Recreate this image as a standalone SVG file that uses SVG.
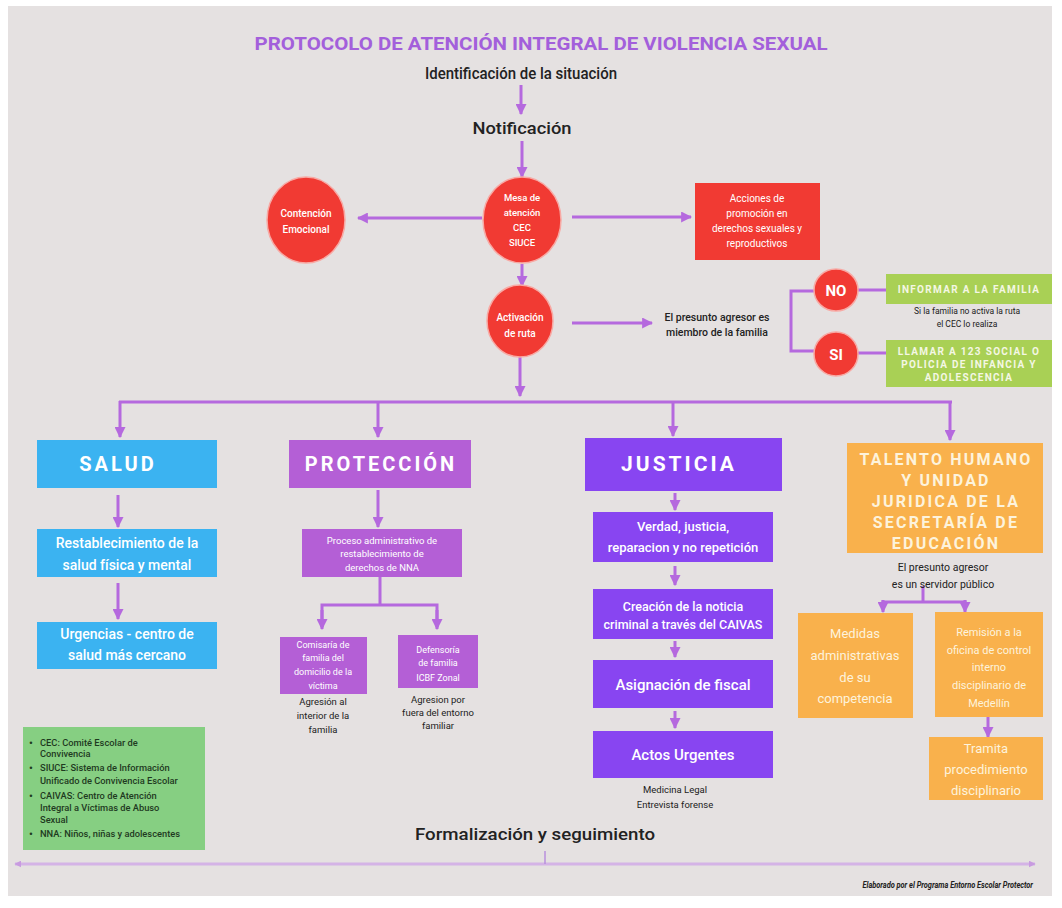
<svg xmlns="http://www.w3.org/2000/svg" width="1062" height="908" viewBox="0 0 1062 908">
<style>
.ln{stroke:#b569de;stroke-width:3;fill:none}
.a{marker-end:url(#ah)}
.red{fill:#f13a33;stroke:#f8a9a4;stroke-width:1.5}
.t{font-family:Roboto,"Liberation Sans",sans-serif}
.w{fill:#fff}
.d{fill:#222}
.c{text-anchor:middle}
.hd{font-family:Roboto,"Liberation Sans",sans-serif;font-weight:700;fill:#fff;text-anchor:middle;letter-spacing:3px}
</style>
<defs>
<marker id="ah" viewBox="0 0 10 10" refX="9" refY="5" markerWidth="11" markerHeight="11" markerUnits="userSpaceOnUse" orient="auto">
<path d="M0,0 L10,5 L0,10 z" fill="#b569de"/>
</marker>
<marker id="sh" viewBox="0 0 10 10" refX="9" refY="5" markerWidth="7" markerHeight="7" markerUnits="userSpaceOnUse" orient="auto-start-reverse">
<path d="M0,0 L10,5 L0,10 z" fill="#c89be0"/>
</marker>
</defs>
<rect x="0" y="0" width="1062" height="908" fill="#ffffff"/>
<rect x="8" y="6" width="1044" height="890" fill="#e5e1e1"/>

<g id="title">
<text class="t c" x="541" y="50" font-size="19" font-weight="700" fill="#a35fdb" textLength="573" lengthAdjust="spacingAndGlyphs">PROTOCOLO DE ATENCIÓN INTEGRAL DE VIOLENCIA SEXUAL</text>
</g>
<g id="identificacion"><text class="t c d" x="521" y="79" font-size="17" font-weight="500" textLength="192" lengthAdjust="spacingAndGlyphs">Identificación de la situación</text></g>
<g id="notificacion"><text class="t c d" x="522" y="134" font-size="17" font-weight="500" textLength="99" lengthAdjust="spacingAndGlyphs">Notificación</text></g>

<g id="connectors">
<line class="ln a" x1="521" y1="85" x2="521" y2="114"/>
<line class="ln a" x1="522" y1="141" x2="522" y2="177"/>
<line class="ln a" x1="482" y1="218" x2="358" y2="218"/>
<line class="ln a" x1="572" y1="217" x2="691" y2="217"/>
<line class="ln a" x1="522" y1="264" x2="522" y2="286"/>
<line class="ln a" x1="572" y1="323" x2="652" y2="323"/>
<polyline class="ln" points="815,291 791,291 791,351 815,351"/>
<line class="ln" x1="858" y1="290" x2="886" y2="290"/>
<line class="ln" x1="858" y1="353" x2="886" y2="353"/>
<line class="ln a" x1="520" y1="357" x2="520" y2="396"/>
<line class="ln" x1="119" y1="402" x2="952" y2="402"/>
<line class="ln a" x1="120" y1="401" x2="120" y2="437"/>
<line class="ln a" x1="378" y1="401" x2="378" y2="437"/>
<line class="ln a" x1="673" y1="401" x2="673" y2="436"/>
<line class="ln a" x1="950" y1="401" x2="950" y2="440"/>
<line class="ln a" x1="118" y1="495" x2="118" y2="527"/>
<line class="ln a" x1="118" y1="583" x2="118" y2="619"/>
<line class="ln a" x1="378" y1="490" x2="378" y2="527"/>
<line class="ln" x1="380" y1="577" x2="380" y2="605"/>
<polyline class="ln" points="322,627 322,605 437,605 437,627"/>
<line class="ln a" x1="322" y1="610" x2="322" y2="629"/>
<line class="ln a" x1="437" y1="610" x2="437" y2="629"/>
<line class="ln a" x1="675" y1="493" x2="675" y2="510"/>
<line class="ln a" x1="675" y1="566" x2="675" y2="585"/>
<line class="ln a" x1="675" y1="641" x2="675" y2="657"/>
<line class="ln a" x1="675" y1="711" x2="675" y2="728"/>
<line class="ln" x1="923" y1="586" x2="923" y2="602"/>
<polyline class="ln" points="883,609 883,602 965,602 965,609"/>
<line class="ln a" x1="883" y1="600" x2="883" y2="612"/>
<line class="ln a" x1="965" y1="600" x2="965" y2="612"/>
<line class="ln a" x1="988" y1="717" x2="988" y2="737"/>
<line x1="15" y1="864" x2="1035" y2="864" stroke="#d4b3e6" stroke-width="3" marker-start="url(#sh)" marker-end="url(#sh)"/>
<line x1="545" y1="851" x2="545" y2="864" stroke="#b98fdc" stroke-width="1.5"/>
</g>

<g id="mesa">
<ellipse class="red" cx="522" cy="220" rx="39" ry="43"/>
<text class="t c w" font-size="9.5" font-weight="500"><tspan x="522" y="201">Mesa de</tspan><tspan x="522" y="216">atención</tspan><tspan x="522" y="231">CEC</tspan><tspan x="522" y="246">SIUCE</tspan></text>
</g>
<g id="contencion">
<ellipse class="red" cx="306" cy="220" rx="39" ry="43"/>
<text class="t c w" font-size="10" font-weight="500"><tspan x="306" y="217">Contención</tspan><tspan x="306" y="233">Emocional</tspan></text>
</g>
<g id="acciones">
<rect x="695" y="183" width="125" height="77" fill="#f13a33"/>
<text class="t c w" font-size="10"><tspan x="757" y="202">Acciones de</tspan><tspan x="757" y="217">promoción en</tspan><tspan x="757" y="232">derechos sexuales y</tspan><tspan x="757" y="247">reproductivos</tspan></text>
</g>
<g id="activacion">
<ellipse class="red" cx="520" cy="321" rx="33" ry="36"/>
<text class="t c w" font-size="10" font-weight="500"><tspan x="520" y="321">Activación</tspan><tspan x="520" y="337">de ruta</tspan></text>
</g>
<g id="presunto-familia">
<text class="t c d" font-size="10.5" font-weight="500"><tspan x="717" y="321">El presunto agresor es</tspan><tspan x="717" y="336">miembro de la familia</tspan></text>
</g>
<g id="no">
<ellipse class="red" cx="836" cy="290" rx="22" ry="21"/>
<text class="t c w" x="836" y="296" font-size="15" font-weight="700">NO</text>
</g>
<g id="si">
<ellipse class="red" cx="836" cy="354" rx="22" ry="22"/>
<text class="t c w" x="836" y="360" font-size="15" font-weight="700">SI</text>
</g>
<g id="informar">
<rect x="886" y="274" width="166" height="30" fill="#a9d055"/>
<text class="t c" x="969" y="293" font-size="10" font-weight="700" fill="#f4f7e4" letter-spacing="1.3">INFORMAR A LA FAMILIA</text>
<text class="t c d" font-size="8.5"><tspan x="967" y="314">Si la familia no activa la ruta</tspan><tspan x="967" y="327">el CEC lo realiza</tspan></text>
</g>
<g id="llamar">
<rect x="886" y="340" width="166" height="47" fill="#a9d055"/>
<text class="t c" font-size="10" font-weight="700" fill="#f4f7e4" letter-spacing="1.3"><tspan x="969" y="355">LLAMAR A 123 SOCIAL O</tspan><tspan x="969" y="368">POLICIA DE INFANCIA Y</tspan><tspan x="969" y="381">ADOLESCENCIA</tspan></text>
</g>

<g id="salud">
<rect x="37" y="440" width="180" height="48" fill="#3bb3f1"/>
<text class="hd" x="118" y="471" font-size="20">SALUD</text>
</g>
<g id="restablecimiento">
<rect x="37" y="529" width="180" height="48" fill="#3bb3f1"/>
<text class="t c w" font-size="14" font-weight="500"><tspan x="127" y="548">Restablecimiento de la</tspan><tspan x="127" y="570">salud física y mental</tspan></text>
</g>
<g id="urgencias">
<rect x="37" y="622" width="180" height="47" fill="#3bb3f1"/>
<text class="t c w" font-size="14" font-weight="500"><tspan x="127" y="639">Urgencias - centro de</tspan><tspan x="127" y="660">salud más cercano</tspan></text>
</g>

<g id="proteccion">
<rect x="289" y="440" width="182" height="48" fill="#b45fd6"/>
<text class="hd" x="381" y="471" font-size="20">PROTECCIÓN</text>
</g>
<g id="proceso">
<rect x="302" y="529" width="160" height="48" fill="#b45fd6"/>
<text class="t c w" font-size="9.5"><tspan x="382" y="544">Proceso administrativo de</tspan><tspan x="382" y="557">restablecimiento de</tspan><tspan x="382" y="571">derechos de NNA</tspan></text>
</g>
<g id="comisaria">
<rect x="280" y="637" width="87" height="57" fill="#b45fd6"/>
<text class="t c w" font-size="9"><tspan x="323" y="648">Comisaría de</tspan><tspan x="323" y="661">familia del</tspan><tspan x="323" y="675">domicilio de la</tspan><tspan x="323" y="689">víctima</tspan></text>
<text class="t c d" font-size="9.5"><tspan x="323" y="705">Agresión al</tspan><tspan x="323" y="719">interior de la</tspan><tspan x="323" y="733">familia</tspan></text>
</g>
<g id="defensoria">
<rect x="398" y="635" width="80" height="53" fill="#b45fd6"/>
<text class="t c w" font-size="9"><tspan x="438" y="653">Defensoría</tspan><tspan x="438" y="666">de familia</tspan><tspan x="438" y="681">ICBF Zonal</tspan></text>
<text class="t c d" font-size="9.5"><tspan x="438" y="703">Agresion por</tspan><tspan x="438" y="716">fuera del entorno</tspan><tspan x="438" y="729">familiar</tspan></text>
</g>

<g id="justicia">
<rect x="585" y="438" width="197" height="53" fill="#8845f1"/>
<text class="hd" x="679" y="471" font-size="21">JUSTICIA</text>
</g>
<g id="verdad">
<rect x="593" y="512" width="180" height="50" fill="#8845f1"/>
<text class="t c w" font-size="13" font-weight="500"><tspan x="683" y="531">Verdad, justicia,</tspan><tspan x="683" y="552">reparacion y no repetición</tspan></text>
</g>
<g id="creacion">
<rect x="593" y="589" width="180" height="50" fill="#8845f1"/>
<text class="t c w" font-size="12.5" font-weight="500"><tspan x="683" y="611">Creación de la noticia</tspan><tspan x="683" y="629">criminal a través del CAIVAS</tspan></text>
</g>
<g id="asignacion">
<rect x="593" y="660" width="180" height="48" fill="#8845f1"/>
<text class="t c w" x="683" y="690" font-size="15" font-weight="500">Asignación de fiscal</text>
</g>
<g id="actos">
<rect x="593" y="731" width="180" height="47" fill="#8845f1"/>
<text class="t c w" x="683" y="760" font-size="15" font-weight="500">Actos Urgentes</text>
<text class="t c d" font-size="9.5"><tspan x="675" y="793">Medicina Legal</tspan><tspan x="675" y="808">Entrevista forense</tspan></text>
</g>

<g id="talento">
<rect x="847" y="443" width="196" height="110" fill="#f9b14c"/>
<text class="t c" font-size="16" font-weight="700" fill="#fdf3dc" letter-spacing="2.2"><tspan x="946" y="465">TALENTO HUMANO</tspan><tspan x="946" y="486">Y UNIDAD</tspan><tspan x="946" y="507">JURIDICA DE LA</tspan><tspan x="946" y="528">SECRETARÍA DE</tspan><tspan x="946" y="549">EDUCACIÓN</tspan></text>
<text class="t c d" font-size="10.5"><tspan x="943" y="571">El presunto agresor</tspan><tspan x="943" y="588">es un servidor público</tspan></text>
</g>
<g id="medidas">
<rect x="798" y="613" width="115" height="105" fill="#f9b14c"/>
<text class="t c" font-size="13" fill="#fdf3dc"><tspan x="855" y="638">Medidas</tspan><tspan x="855" y="660">administrativas</tspan><tspan x="855" y="682">de su</tspan><tspan x="855" y="703">competencia</tspan></text>
</g>
<g id="remision">
<rect x="935" y="612" width="108" height="105" fill="#f9b14c"/>
<text class="t c" font-size="11" fill="#fdf3dc"><tspan x="989" y="636">Remisión a la</tspan><tspan x="989" y="654">oficina de control</tspan><tspan x="989" y="671">interno</tspan><tspan x="989" y="689">disciplinario de</tspan><tspan x="989" y="707">Medellín</tspan></text>
</g>
<g id="tramita">
<rect x="929" y="737" width="114" height="63" fill="#f9b14c"/>
<text class="t c" font-size="13" fill="#fdf3dc"><tspan x="986" y="753">Tramita</tspan><tspan x="986" y="774">procedimiento</tspan><tspan x="986" y="795">disciplinario</tspan></text>
</g>

<g id="legend">
<rect x="23" y="727" width="182" height="123" fill="#86cf82"/>
<g class="t" font-size="9.3" font-weight="500" fill="#1f3a1f">
<text x="29" y="747" font-size="11">•</text><text x="40" y="746">CEC: Comité Escolar de</text>
<text x="40" y="757">Convivencia</text>
<text x="29" y="772" font-size="11">•</text><text x="40" y="771">SIUCE: Sistema de Información</text>
<text x="40" y="784">Unificado de Convivencia Escolar</text>
<text x="29" y="800" font-size="11">•</text><text x="40" y="799">CAIVAS: Centro de Atención</text>
<text x="40" y="811">Integral a Víctimas de Abuso</text>
<text x="40" y="823">Sexual</text>
<text x="29" y="838" font-size="11">•</text><text x="40" y="837">NNA: Niños, niñas y adolescentes</text>
</g>
</g>

<g id="formalizacion">
<text class="t d" x="415" y="840" font-size="17" font-weight="500" textLength="240" lengthAdjust="spacingAndGlyphs">Formalización  y seguimiento</text>
</g>
<g id="credit">
<text class="t" transform="translate(1033,888) scale(0.78,1)" x="0" y="0" text-anchor="end" font-size="9.5" font-weight="700" font-style="italic" fill="#222">Elaborado por el Programa Entorno Escolar Protector</text>
</g>
</svg>
